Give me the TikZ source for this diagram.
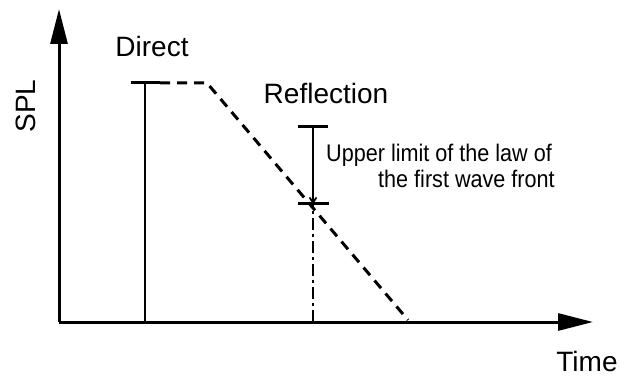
\documentclass[tikz,border=0pt]{standalone}
\usepackage{fontspec}
\setmainfont{Liberation Sans}
\usetikzlibrary{arrows.meta}
\begin{document}
\begin{tikzpicture}[x=1pt,y=-1pt,
  axis/.style={line width=3pt,-{Triangle[length=35pt,width=17pt]}},
  bar/.style={line width=2.6pt},
  capline/.style={line width=3pt},
  envelope/.style={line width=3pt,dash pattern=on 10pt off 7pt},
  dashdot/.style={line width=2.6pt,dash pattern=on 12pt off 4pt on 3pt off 4pt},
  lbl/.style={font=\fontsize{28}{32}\selectfont,inner sep=0pt},
  small/.style={font=\fontsize{24}{28}\selectfont,inner sep=0pt}]
\useasboundingbox (0,0) rectangle (636,379);
% axes
\coordinate (O) at (59,322);
\coordinate (ytip) at (59,9);
\coordinate (xtip) at (593,322);
\draw[axis] (O) -- (ytip);
\draw[axis] (O) -- (xtip);
% direct sound
\coordinate (dbase) at (145,322);
\coordinate (dtop) at (145,83);
\coordinate (dcl) at (131,83);
\coordinate (dcr) at (160,83);
\draw[bar] (dbase) -- (dtop);
\draw[capline] (dcl) -- (dcr);
% envelope
\coordinate (eknee) at (207,83);
\coordinate (eend) at (408,320);
\draw[envelope] (dcr) -- (eknee) -- (eend);
% reflection
\coordinate (rbase) at (313,322);
\coordinate (rlow) at (313,204);
\coordinate (rtop) at (313,127);
\coordinate (rtl) at (298,127);
\coordinate (rtr) at (328,127);
\coordinate (rll) at (298,204);
\coordinate (rlr) at (329,204);
\draw[dashdot] (rbase) -- (rlow);
\draw[line width=1.8pt,-{Straight Barb[length=5pt,width=7pt]}] (rtop) -- (rlow);
\draw[capline] (rtl) -- (rtr);
\draw[capline] (rll) -- (rlr);
% labels
\node[lbl,anchor=base] (direct) at (152,57) {Direct};
\node[lbl,anchor=base] (refl) at (326,104) {Reflection};
\node[lbl,anchor=base] (time) at (587,371) {Time};
\node[lbl,rotate=90] (spl) at (26,106) {SPL};
\node[small,anchor=base west] (up1) at (326,162) {\scalebox{0.9}[1]{Upper limit of the law of}};
\node[small,anchor=base west] (up2) at (378,188) {\scalebox{0.9}[1]{the first wave front}};
\end{tikzpicture}
\end{document}
